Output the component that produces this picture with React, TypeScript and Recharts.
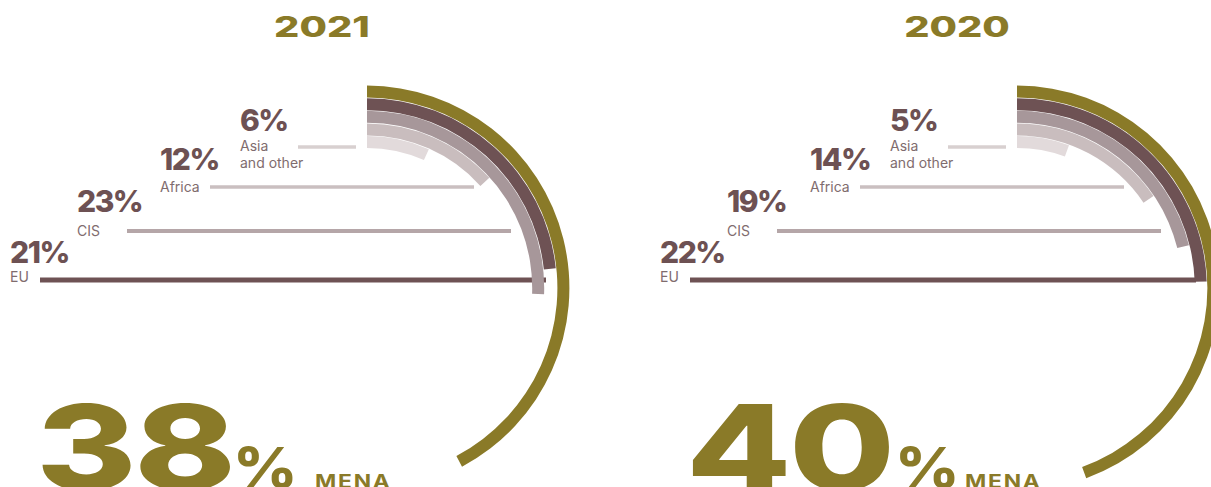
import { RadialBarChart, RadialBar, PolarAngleAxis, Cell } from 'recharts';

const regions = ['Asia and other', 'Africa', 'CIS', 'EU', 'MENA'];
const share2021 = [6, 12, 23, 21, 38];
const share2020 = [5, 14, 19, 22, 40];
const years = ['2021', '2020'];

const GOLD = '#8a7a28';
const BROWN = '#6d5153';
const NAME = '#7f6c6e';
const FONT = 'Inter, "Noto Sans", sans-serif';

const arcColors: Record<string, string> = {
  MENA: GOLD,
  EU: '#6e5254',
  CIS: '#a7979a',
  Africa: '#c9bdbe',
  'Asia and other': '#e2dadb',
};

// label + leader line placement, shared by both charts (chart-local px)
const labelLayout: Record<string, any> = {
  EU: { x: 10, pctY: 263, nameY: [282], lineY: 280, x1: 40, x2: 546, w: 5, stroke: '#6e5254' },
  CIS: { x: 77, pctY: 212, nameY: [236], lineY: 231, x1: 127, x2: 511, w: 4, stroke: '#b5a6a8' },
  Africa: { x: 160, pctY: 170, nameY: [192], lineY: 187, x1: 210, x2: 474, w: 3.5, stroke: '#cabfc0' },
  'Asia and other': { x: 240, pctY: 131, nameY: [151, 168], lineY: 147, x1: 298, x2: 356, w: 3.5, stroke: '#d8d0d0' },
};

const W = 605;
const H = 487;
const CX = 367;
const CY = 288;

type Props = { year: string; values: number[]; left: number; titleX: number; pctX: number };

const YearChart = ({ year, values, left, titleX, pctX }: Props) => {
  const data = regions.map((region, i) => ({ region, value: values[i] }));
  const mena = data.find((d) => d.region === 'MENA')!;
  const others = data.filter((d) => d.region !== 'MENA');

  return (
    <div style={{ position: 'absolute', left, top: 0, width: W, height: H }}>
      {/* leader lines sit under the arcs */}
      <svg width={W} height={H} style={{ position: 'absolute', left: 0, top: 0 }}>
        {others.map((d) => {
          const l = labelLayout[d.region];
          return <line key={d.region} x1={l.x1} x2={l.x2} y1={l.lineY} y2={l.lineY} stroke={l.stroke} strokeWidth={l.w} />;
        })}
      </svg>

      <div style={{ position: 'absolute', left: 0, top: 0 }}>
        <RadialBarChart
          width={W}
          height={H}
          cx={CX}
          cy={CY}
          innerRadius={140}
          outerRadius={203}
          startAngle={90}
          endAngle={-270}
          barCategoryGap={0}
          margin={{ top: 0, right: 0, bottom: 0, left: 0 }}
          data={data}
        >
          <PolarAngleAxis type="number" domain={[0, 90]} tick={false} axisLine={false} />
          <RadialBar dataKey="value" barSize={12} isAnimationActive={false}>
            {data.map((d) => (
              <Cell key={d.region} fill={arcColors[d.region]} />
            ))}
          </RadialBar>
        </RadialBarChart>
      </div>

      <svg width={W} height={H} style={{ position: 'absolute', left: 0, top: 0, pointerEvents: 'none' }}>
        <g transform={`translate(${titleX},37) scale(1.42,1)`}>
          <text x={0} y={0} textAnchor="middle" fontFamily={FONT} fontWeight={800} fontSize={28} fill={GOLD}>
            {year}
          </text>
        </g>

        {others.map((d) => {
          const l = labelLayout[d.region];
          const lines = d.region === 'Asia and other' ? ['Asia', 'and other'] : [d.region];
          return (
            <g key={d.region}>
              <text x={l.x} y={l.pctY} fontFamily={FONT} fontWeight={800} fontSize={30} letterSpacing={-1.5} fill={BROWN}>
                {d.value}%
              </text>
              {lines.map((t, j) => (
                <text key={t} x={l.x} y={l.nameY[j]} fontFamily={FONT} fontSize={14} fill={NAME}>
                  {t}
                </text>
              ))}
            </g>
          );
        })}

        <g transform="translate(36,490) scale(1.3,1)">
          <text x={0} y={0} fontFamily={FONT} fontWeight={800} fontSize={118} letterSpacing={-2} fill={GOLD}>
            {mena.value}
          </text>
        </g>
        <g transform={`translate(${pctX},488) scale(1.12,1)`}>
          <text x={0} y={0} fontFamily={FONT} fontWeight={800} fontSize={56} fill={GOLD}>
            %
          </text>
        </g>
        <g transform="translate(315,488) scale(1.2,1)">
          <text x={0} y={0} fontFamily={FONT} fontWeight={700} fontSize={19} letterSpacing={1.5} fill={GOLD}>
            {mena.region}
          </text>
        </g>
      </svg>
    </div>
  );
};

const App = () => {
  return (
    <div style={{ position: 'absolute', left: 0, top: 0, width: 1211, height: 487, overflow: 'hidden', background: '#fff' }}>
      <YearChart year={years[0]} values={share2021} left={0} titleX={322} pctX={233} />
      <YearChart year={years[1]} values={share2020} left={650} titleX={307} pctX={245} />
    </div>
  );
};

export default App;
